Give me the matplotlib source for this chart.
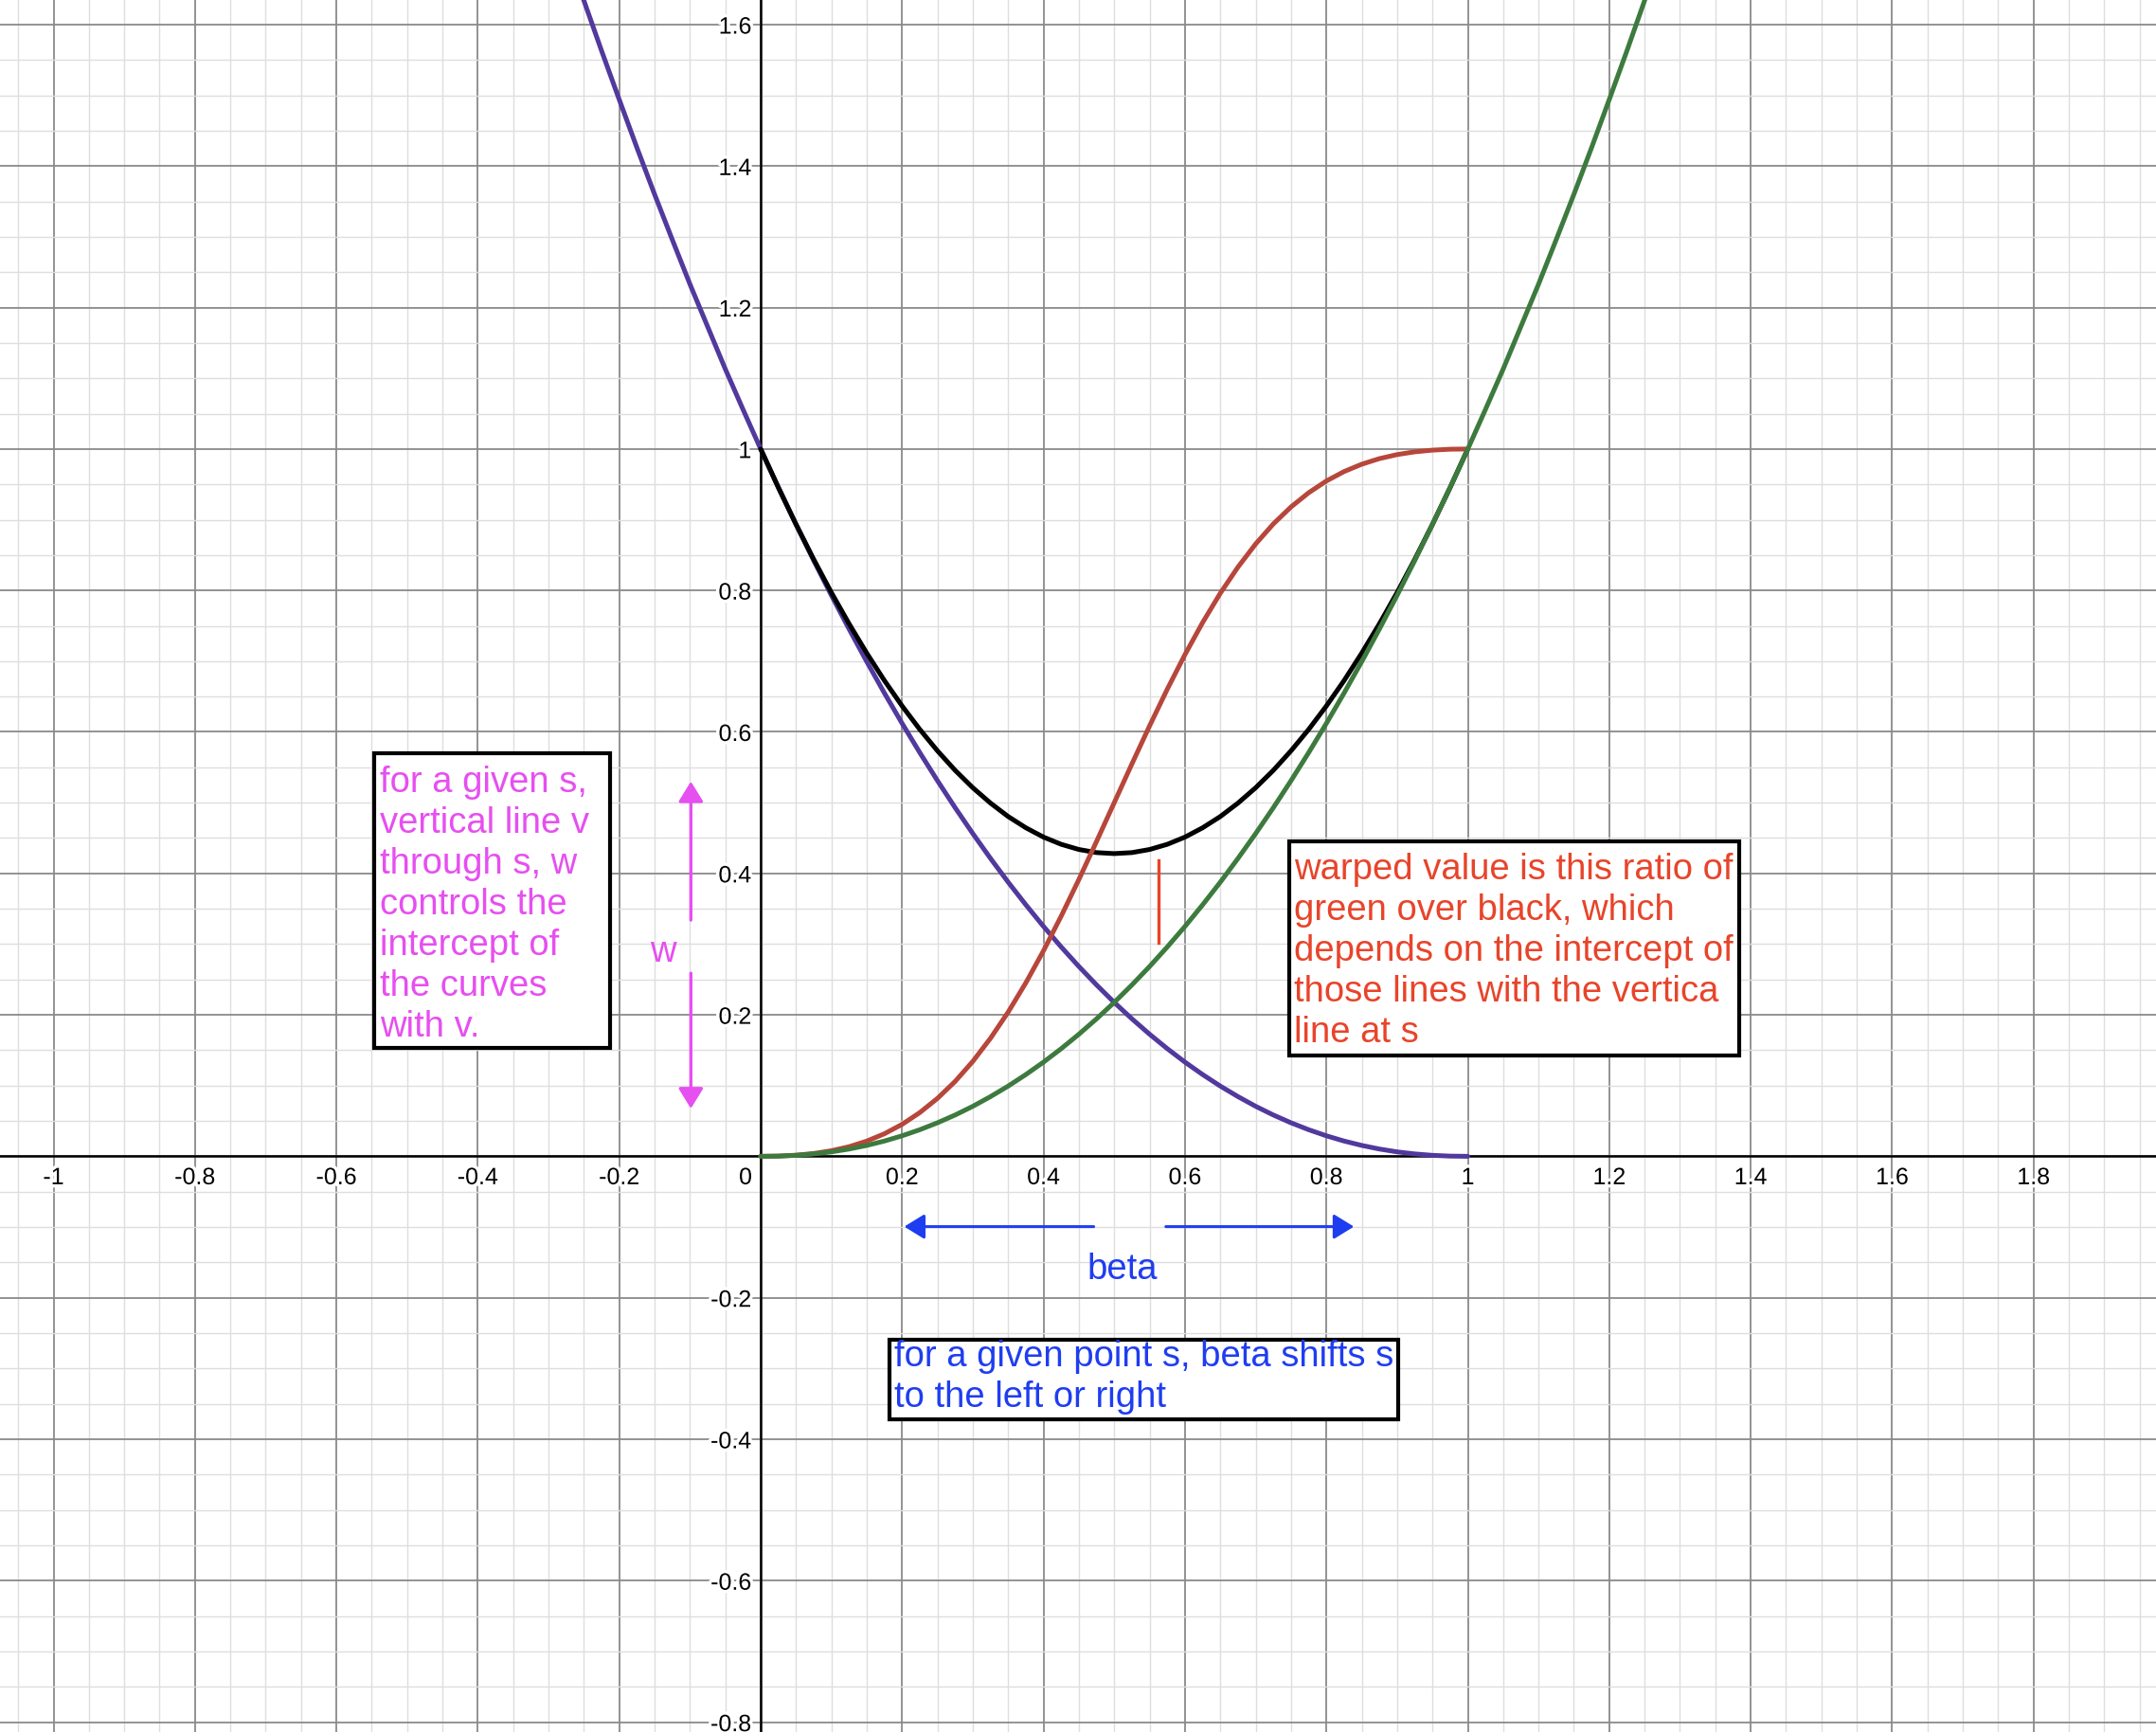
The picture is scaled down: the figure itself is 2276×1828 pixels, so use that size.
import matplotlib
matplotlib.use("Agg")
import matplotlib.pyplot as plt
import matplotlib.patheffects as pe
from matplotlib.patches import Rectangle

plt.rcParams["font.family"] = ["Liberation Sans", "DejaVu Sans"]

# curves
purple_x = [-0.300, -0.275, -0.250, -0.225, -0.200, -0.175, -0.150, -0.125, -0.100, -0.075, -0.050, -0.025,
            0.000, 0.025, 0.050, 0.075, 0.100, 0.125, 0.150, 0.175, 0.200, 0.225, 0.250, 0.275, 0.300,
            0.325, 0.350, 0.375, 0.400, 0.425, 0.450, 0.475, 0.500, 0.525, 0.550, 0.575, 0.600, 0.625,
            0.650, 0.675, 0.700, 0.725, 0.750, 0.775, 0.800, 0.825, 0.850, 0.875, 0.900, 0.925, 0.950,
            0.975, 1.000]
purple_y = [1.781, 1.707, 1.634, 1.563, 1.494, 1.426, 1.360, 1.296, 1.233, 1.173, 1.113, 1.056,
            1.0000, 0.9458, 0.8933, 0.8424, 0.7931, 0.7455, 0.6994, 0.6549, 0.6121, 0.5708, 0.5311, 0.4929, 0.4563,
            0.4212, 0.3876, 0.3556, 0.3250, 0.2960, 0.2684, 0.2423, 0.2176, 0.1944, 0.1726, 0.1522, 0.1332, 0.1156,
            0.0993, 0.0844, 0.0707, 0.0584, 0.0474, 0.0376, 0.0290, 0.0216, 0.0154, 0.0103, 0.0063, 0.0034, 0.0014,
            0.0003, 0.0000]

green_x = [0.000, 0.025, 0.050, 0.075, 0.100, 0.125, 0.150, 0.175, 0.200, 0.225, 0.250, 0.275, 0.300,
           0.325, 0.350, 0.375, 0.400, 0.425, 0.450, 0.475, 0.500, 0.525, 0.550, 0.575, 0.600, 0.625,
           0.650, 0.675, 0.700, 0.725, 0.750, 0.775, 0.800, 0.825, 0.850, 0.875, 0.900, 0.925, 0.950,
           0.975, 1.000, 1.025, 1.050, 1.075, 1.100, 1.125, 1.150, 1.175, 1.200, 1.225, 1.250, 1.275, 1.300]
green_y = [0.0000, 0.0003, 0.0014, 0.0034, 0.0063, 0.0103, 0.0154, 0.0216, 0.0290, 0.0376, 0.0474, 0.0584, 0.0707,
           0.0844, 0.0993, 0.1156, 0.1332, 0.1522, 0.1726, 0.1944, 0.2176, 0.2423, 0.2684, 0.2960, 0.3250, 0.3556,
           0.3876, 0.4212, 0.4563, 0.4929, 0.5311, 0.5708, 0.6121, 0.6549, 0.6994, 0.7455, 0.7931, 0.8424, 0.8933,
           0.9458, 1.0000, 1.056, 1.113, 1.173, 1.233, 1.296, 1.360, 1.426, 1.494, 1.563, 1.634, 1.707, 1.781]

unit_x = [0.000, 0.025, 0.050, 0.075, 0.100, 0.125, 0.150, 0.175, 0.200, 0.225, 0.250, 0.275, 0.300,
          0.325, 0.350, 0.375, 0.400, 0.425, 0.450, 0.475, 0.500, 0.525, 0.550, 0.575, 0.600, 0.625,
          0.650, 0.675, 0.700, 0.725, 0.750, 0.775, 0.800, 0.825, 0.850, 0.875, 0.900, 0.925, 0.950,
          0.975, 1.000]
black_y = [1.0000, 0.9455, 0.8935, 0.8440, 0.7970, 0.7529, 0.7114, 0.6726, 0.6367, 0.6036, 0.5733, 0.5457, 0.5211,
           0.4994, 0.4804, 0.4645, 0.4513, 0.4411, 0.4338, 0.4294, 0.4280, 0.4294, 0.4338, 0.4411, 0.4513, 0.4645,
           0.4804, 0.4994, 0.5211, 0.5457, 0.5733, 0.6036, 0.6367, 0.6726, 0.7114, 0.7529, 0.7970, 0.8440, 0.8935,
           0.9455, 1.0000]
red_y = [0.0000, 0.0003, 0.0016, 0.0040, 0.0079, 0.0136, 0.0215, 0.0319, 0.0452, 0.0618, 0.0819, 0.1059, 0.1342,
         0.1669, 0.2039, 0.2453, 0.2907, 0.3396, 0.3914, 0.4452, 0.5000, 0.5548, 0.6086, 0.6604, 0.7093, 0.7547,
         0.7961, 0.8331, 0.8658, 0.8941, 0.9181, 0.9382, 0.9548, 0.9681, 0.9785, 0.9864, 0.9921, 0.9960, 0.9984,
         0.9997, 1.0000]

x_tick_labels = ["-1", "-0.8", "-0.6", "-0.4", "-0.2", "0.2", "0.4", "0.6", "0.8", "1", "1.2", "1.4", "1.6", "1.8"]
y_tick_labels = ["1.6", "1.4", "1.2", "1", "0.8", "0.6", "0.4", "0.2", "-0.2", "-0.4", "-0.6", "-0.8"]

note_w = "for a given s,\nvertical line v\nthrough s, w\ncontrols the\nintercept of\nthe curves\nwith v."
note_ratio = ("warped value is this ratio of\ngreen over black, which\ndepends on the intercept of\n"
              "those lines with the vertica\nline at s")
note_beta = "for a given point s, beta shifts s\nto the left or right"

MAGENTA = "#e64ff0"
ORANGE = "#e8442a"
BLUE = "#1f3df0"

fig = plt.figure(figsize=(22.76, 18.28), dpi=100)
ax = fig.add_axes([0, 0, 1, 1])
for s in ax.spines.values():
    s.set_visible(False)

ax.set_xticks([i * 0.2 for i in range(-6, 11)])
ax.set_xticks([i * 0.05 for i in range(-22, 40)], minor=True)
ax.set_yticks([i * 0.2 for i in range(-5, 9)])
ax.set_yticks([i * 0.05 for i in range(-17, 33)], minor=True)
# limits after the ticks, otherwise set_xticks widens the view
ax.set_xlim(-1.0757, 1.9732)
ax.set_ylim(-0.8139, 1.6348)
ax.tick_params(which="both", length=0, labelbottom=False, labelleft=False)
ax.grid(which="minor", color="#dedede", lw=1.0, zorder=0)
ax.grid(which="major", color="#8a8a8a", lw=1.3, zorder=0)
ax.set_axisbelow(True)
ax.axhline(0, color="black", lw=1.8, zorder=1)
ax.axvline(0, color="black", lw=1.8, zorder=1)

halo = [pe.withStroke(linewidth=5, foreground="white")]
for lab in x_tick_labels:
    ax.text(float(lab), -0.014, lab, ha="center", va="top", fontsize=18, path_effects=halo, zorder=2)
for lab in y_tick_labels:
    ax.text(-0.013, float(lab), lab, ha="right", va="center_baseline", fontsize=18, path_effects=halo, zorder=2)
ax.text(-0.012, -0.014, "0", ha="right", va="top", fontsize=18, path_effects=halo, zorder=2)

ax.plot(purple_x, purple_y, color="#51399d", lw=3.6, solid_capstyle="round", zorder=3)
ax.plot(unit_x, black_y, color="black", lw=3.6, solid_capstyle="round", zorder=3)
ax.plot(unit_x, red_y, color="#b7463b", lw=3.6, solid_capstyle="round", zorder=4)
ax.plot(green_x, green_y, color="#3d7a3e", lw=3.6, solid_capstyle="round", zorder=4)

# boxed notes
boxes = [(-0.5466, 0.1532, 0.3336, 0.4167), (0.7475, 0.1425, 0.6363, 0.3028), (0.1817, -0.3719, 0.7198, 0.1131)]
for x0, y0, w, h in boxes:
    ax.add_patch(Rectangle((x0, y0), w, h, facecolor="white", edgecolor="black", lw=3.0, zorder=5))

ax.text(-0.5385, 0.553, note_w, color=MAGENTA, fontsize=27.5, ha="left", va="top", linespacing=1.25, zorder=6)
ax.text(0.7542, 0.429, note_ratio, color=ORANGE, fontsize=27.5, ha="left", va="top", linespacing=1.25, zorder=6)
ax.text(0.189, -0.259, note_beta, color=BLUE, fontsize=27.5, ha="left", va="top", linespacing=1.25, zorder=6)

# hand drawn marks
arrow_kw = dict(arrowstyle="-|>,head_length=0.65,head_width=0.4", shrinkA=0, shrinkB=0, mutation_scale=20)
ax.annotate("", xy=(-0.0987, 0.530), xytext=(-0.0987, 0.334),
            arrowprops=dict(color=MAGENTA, lw=2.4, **arrow_kw), zorder=6)
ax.annotate("", xy=(-0.0987, 0.0675), xytext=(-0.0987, 0.259),
            arrowprops=dict(color=MAGENTA, lw=2.4, **arrow_kw), zorder=6)
ax.text(-0.138, 0.2885, "w", color=MAGENTA, fontsize=27.5, ha="center", va="center", zorder=6)

ax.plot([0.563, 0.563], [0.302, 0.418], color=ORANGE, lw=2.4, zorder=6)

ax.annotate("", xy=(0.203, -0.0994), xytext=(0.471, -0.0994),
            arrowprops=dict(color=BLUE, lw=2.2, **arrow_kw), zorder=6)
ax.annotate("", xy=(0.839, -0.0994), xytext=(0.573, -0.0994),
            arrowprops=dict(color=BLUE, lw=2.2, **arrow_kw), zorder=6)
ax.text(0.512, -0.160, "beta", color=BLUE, fontsize=27.5, ha="center", va="center", zorder=6)

fig.savefig("out.png", dpi=100)
